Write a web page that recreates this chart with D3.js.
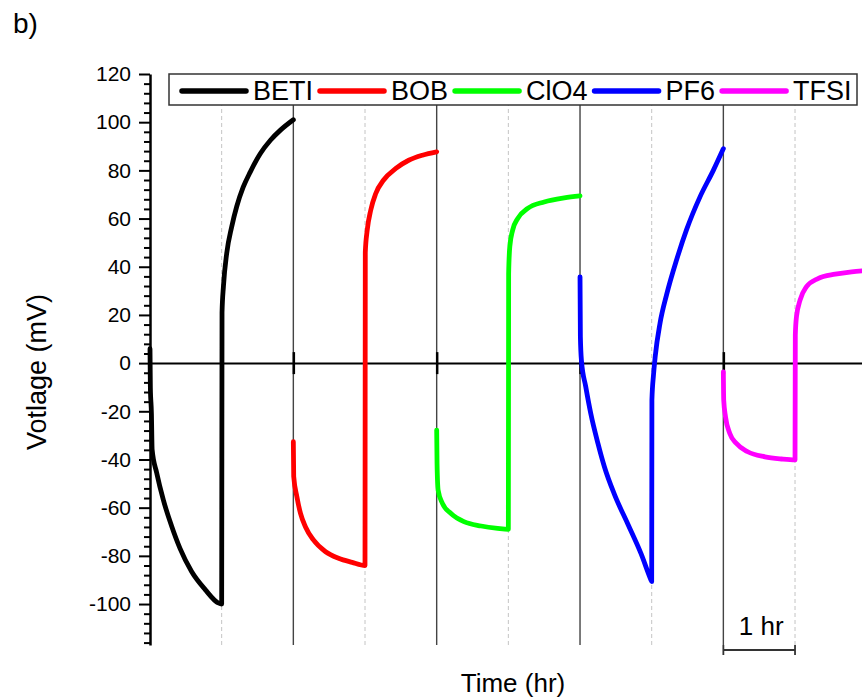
<!DOCTYPE html>
<html>
<head>
<meta charset="utf-8">
<script src="https://cdn.jsdelivr.net/npm/d3@7"></script>
<style>
body { margin: 0; background: #fff; }
text { font-family: 'Liberation Sans', Arial, sans-serif; fill: #000; }
</style>
</head>
<body>
<div id="grafico"></div>
<script>
const width = 862
const height = 700

const names = ['BETI', 'BOB', 'ClO4', 'PF6', 'TFSI']
const colors = ['#000000', '#ff0000', '#00ff00', '#0000ff', '#ff00ff']

// [time (hr), voltage (mV)]
const beti = [[0, 6], [0.005, -10], [0.02, -21], [0.03, -36], [0.093, -45.5], [0.186, -56.8], [0.3, -67.5], [0.42, -77],
              [0.58, -86.5], [0.77, -94], [0.95, -99.5], [1.0, -100], [1.005, 21], [1.025, 32], [1.07, 45.5],
              [1.14, 56.6], [1.21, 65], [1.3, 73], [1.4, 79.4], [1.54, 87], [1.68, 92.5], [1.82, 96.7], [2.0, 101]]
const bob = [[2, -32.6], [2.005, -47], [2.05, -55.5], [2.1, -62.4], [2.17, -68], [2.28, -73.4], [2.45, -78.3],
             [2.63, -81], [2.82, -82.7], [3.0, -84], [3.004, 46], [3.03, 55], [3.08, 63.5], [3.15, 70.4],
             [3.26, 76], [3.43, 80.8], [3.61, 84.2], [3.8, 86.3], [4.0, 87.7]]
const clo4 = [[4, -27.8], [4.005, -41.6], [4.02, -52.7], [4.08, -58.2], [4.2, -62.4], [4.38, -65.8], [4.62, -67.6],
              [4.85, -68.6], [5.0, -69], [5.004, 37], [5.02, 48.3], [5.06, 55.2], [5.13, 60], [5.27, 64.2],
              [5.5, 66.9], [5.78, 68.6], [6.0, 69.4]]
const pf6 = [[6, 35.8], [6.005, 11], [6.02, 1], [6.08, -9.8], [6.15, -20.9], [6.25, -33.3], [6.34, -43], [6.48, -54.5],
             [6.67, -67], [6.85, -79], [6.99, -90], [7.0, -90.7], [7.003, -15.4], [7.025, -5], [7.05, 3], [7.116, 16.5],
             [7.209, 28.5], [7.349, 43], [7.488, 55.5], [7.674, 69], [7.86, 80], [8.0, 89]]
const tfsi = [[8, -3.6], [8.005, -15.4], [8.03, -22.3], [8.09, -29.2], [8.18, -33.3], [8.34, -36.8], [8.58, -38.9],
              [8.81, -39.8], [9.0, -40.2], [9.004, 11.6], [9.02, 19.2], [9.07, 26.1], [9.16, 31.7], [9.32, 35.1],
              [9.56, 36.9], [9.79, 37.9], [10.0, 38.4]]
const seriesData = [beti, bob, clo4, pf6, tfsi]

const yTicks = [-100, -80, -60, -40, -20, 0, 20, 40, 60, 80, 100, 120]
const yMinor = d3.range(-116, 121, 4).filter(v => v % 20 != 0)
const solidHours = [2, 4, 6, 8]
const dashedHours = [1, 3, 5, 7, 9]

const plotTop = 74, plotBottom = 645

const svg = d3.select('#grafico').append('svg')
              .attr('width', width)
              .attr('height', height)
              .style('display', 'block')

const x = d3.scaleLinear().domain([0, 10]).range([150, 866.7])
const y = d3.scaleLinear().domain([-117, 120]).range([plotBottom, plotTop])

// panel "b)"
svg.append('text').attr('x', 13).attr('y', 33).style('font-size', '28px').text('b)')

// hour guide lines
svg.selectAll('.dash').data(dashedHours).enter().append('line')
   .attr('x1', d => x(d)).attr('x2', d => x(d)).attr('y1', plotTop).attr('y2', plotBottom)
   .attr('stroke', '#c4c4c4').attr('stroke-width', 1).attr('stroke-dasharray', '4,3')
svg.selectAll('.solid').data(solidHours).enter().append('line')
   .attr('x1', d => x(d)).attr('x2', d => x(d)).attr('y1', plotTop).attr('y2', plotBottom)
   .attr('stroke', '#444').attr('stroke-width', 1.4)

// zero line with ticks at each change of salt
const zeroAxis = svg.append('g')
   .attr('transform', `translate(0,${y(0)})`)
   .call(d3.axisBottom(x).tickValues(solidHours).tickFormat('').tickSizeOuter(0))
zeroAxis.select('.domain').attr('stroke', '#000').attr('stroke-width', 2)
zeroAxis.selectAll('.tick line').attr('y1', -11).attr('y2', 11).attr('stroke', '#000').attr('stroke-width', 2.5)

// curves
const line = d3.line().x(d => x(d[0])).y(d => y(d[1])).curve(d3.curveMonotoneX)
svg.selectAll('.curve').data(seriesData).enter().append('path')
   .attr('d', line)
   .attr('fill', 'none')
   .attr('stroke', (d, i) => colors[i])
   .attr('stroke-width', 4.8)
   .attr('stroke-linejoin', 'round')
   .attr('stroke-linecap', 'round')

// y axis
svg.append('g').attr('transform', 'translate(150,0)')
   .call(d3.axisLeft(y).tickValues(yMinor).tickSize(6).tickFormat('').tickSizeOuter(0))
   .call(g => g.select('.domain').remove())
   .selectAll('line').attr('stroke-width', 2)
const yAxis = svg.append('g').attr('transform', 'translate(150,0)')
   .call(d3.axisLeft(y).tickValues(yTicks).tickSize(11).tickPadding(8).tickSizeOuter(0)
           .tickFormat(d => String(d)))
yAxis.select('.domain').attr('stroke-width', 2.5)
yAxis.selectAll('.tick line').attr('stroke-width', 2)
yAxis.selectAll('text').style('font-size', '21px').style('font-family', "'Liberation Sans', Arial, sans-serif")

// legend
const legend = svg.append('g')
legend.append('rect').attr('x', 169).attr('y', plotTop).attr('width', 688).attr('height', 31)
      .attr('fill', '#fff').attr('stroke', '#333').attr('stroke-width', 1.5)
let lx = 182
names.forEach((n, i) => {
    legend.append('line').attr('x1', lx).attr('x2', lx + 64).attr('y1', 91).attr('y2', 91)
          .attr('stroke', colors[i]).attr('stroke-width', 5.5).attr('stroke-linecap', 'round')
    const t = legend.append('text').attr('x', lx + 71).attr('y', 100).style('font-size', '27px').text(n)
    lx = lx + 71 + t.node().getComputedTextLength() + 7
})

// scale bar
const sb = svg.append('g').attr('stroke', '#333').attr('stroke-width', 1.8)
sb.append('line').attr('x1', x(8)).attr('x2', x(9)).attr('y1', 650).attr('y2', 650)
sb.append('line').attr('x1', x(8)).attr('x2', x(8)).attr('y1', 645).attr('y2', 655)
sb.append('line').attr('x1', x(9)).attr('x2', x(9)).attr('y1', 645).attr('y2', 655)
svg.append('text').attr('x', (x(8) + x(9)) / 2 + 2).attr('y', 635).attr('text-anchor', 'middle')
   .style('font-size', '26px').text('1 hr')

// axis titles
svg.append('text').attr('transform', 'translate(46,372) rotate(-90)').attr('text-anchor', 'middle')
   .style('font-size', '27px').text('Votlage (mV)')
svg.append('text').attr('x', 513).attr('y', 692).attr('text-anchor', 'middle')
   .style('font-size', '26px').text('Time (hr)')
</script>
</body>
</html>
